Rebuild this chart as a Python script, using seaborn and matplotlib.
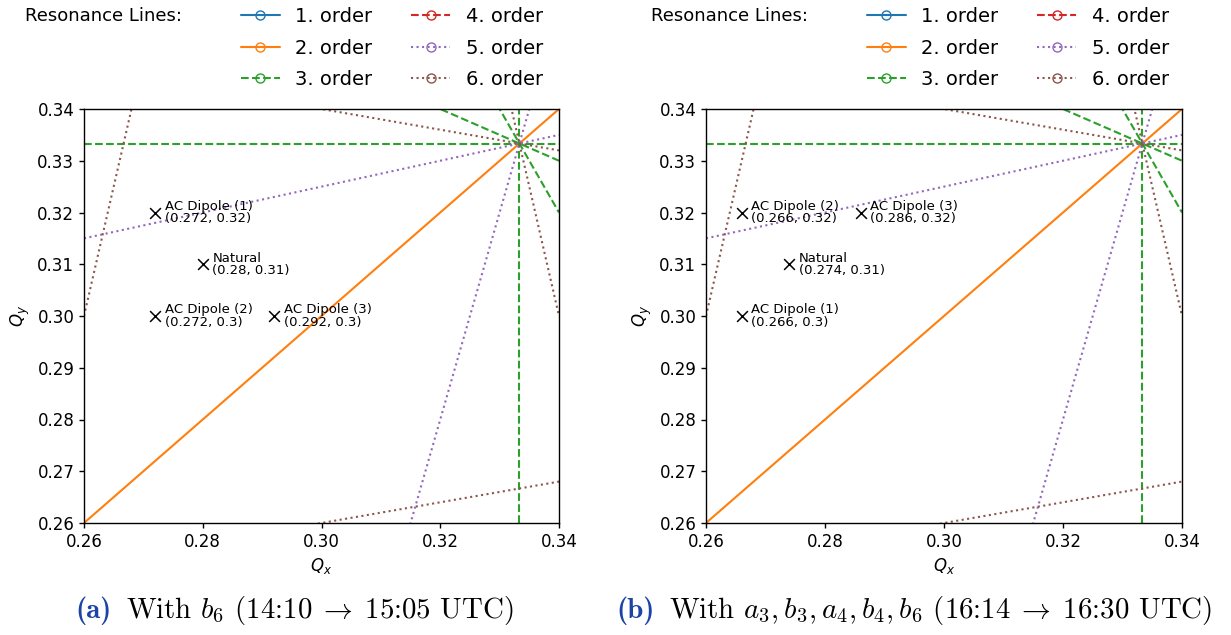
import numpy as np
import pandas as pd
import matplotlib
matplotlib.use("Agg")
import matplotlib.pyplot as plt
import seaborn as sns
from matplotlib.lines import Line2D

sns.set_theme(style="ticks")
plt.rcParams.update({
    "font.family": ["DejaVu Sans"],
    "axes.edgecolor": "black",
    "axes.labelcolor": "black",
    "text.color": "black",
    "xtick.color": "black",
    "ytick.color": "black",
    "axes.linewidth": 1.0,
    "xtick.major.size": 3.5,
    "ytick.major.size": 3.5,
    "xtick.major.width": 1.0,
    "ytick.major.width": 1.0,
    "xtick.labelsize": 12,
    "ytick.labelsize": 12,
    "axes.labelsize": 12,
    "axes.grid": False,
    "axes.unicode_minus": False,
})

# ---- resonance lines  m*Qx + n*Qy = p ----
res_order = [2, 3, 3, 3, 3, 5, 5, 6, 6, 6, 6]
res_m = [1, 3, 0, 1, 2, 4, 1, 5, 1, 5, 1]
res_n = [-1, 0, 3, 2, 1, -1, -4, 1, 5, -1, -5]
res_p = [0, 1, 1, 1, 1, 1, -1, 2, 2, 1, -1]

order_labels = ["1. order", "2. order", "3. order", "4. order", "5. order", "6. order"]
order_colors = ["#1f77b4", "#ff7f0e", "#2ca02c", "#d62728", "#9467bd", "#8c564b"]
order_styles = ["-", "-", "--", "--", ":", ":"]

# ---- working points ----
left_names = ["AC Dipole (1)", "Natural", "AC Dipole (2)", "AC Dipole (3)"]
left_qx = [0.272, 0.28, 0.272, 0.292]
left_qy = [0.32, 0.31, 0.3, 0.3]

right_names = ["AC Dipole (2)", "AC Dipole (3)", "Natural", "AC Dipole (1)"]
right_qx = [0.266, 0.286, 0.274, 0.266]
right_qy = [0.32, 0.32, 0.31, 0.3]

q_min, q_max = 0.26, 0.34
x_ticks = [0.26, 0.28, 0.30, 0.32, 0.34]
y_ticks = [0.26, 0.27, 0.28, 0.29, 0.30, 0.31, 0.32, 0.33, 0.34]

captions_label = ["(a)", "(b)"]
captions_text = [
    r"With $b_6$ (14:10$\;\rightarrow\;$15:05 UTC)",
    r"With $a_3, b_3, a_4, b_4, b_6$ (16:14$\;\rightarrow\;$16:30 UTC)",
]

W, H = 1231, 635
fig = plt.figure(figsize=(W / 100, H / 100), dpi=100)
ax_l = fig.add_axes([84 / W, 1 - 523 / H, 475 / W, 414 / H])
ax_r = fig.add_axes([706 / W, 1 - 523 / H, 476 / W, 414 / H])


def draw_panel(ax, names, qx, qy, x_off):
    for o, m, n, p in zip(res_order, res_m, res_n, res_p):
        if n == 0:
            xs = np.array([p / m, p / m])
            ys = np.array([q_min, q_max])
        else:
            xs = np.array([q_min, q_max])
            ys = (p - m * xs) / n
        sns.lineplot(x=xs, y=ys, ax=ax, color=order_colors[o - 1],
                     linestyle=order_styles[o - 1], linewidth=1.5,
                     sort=False, estimator=None)
    sns.scatterplot(x=qx, y=qy, ax=ax, marker="x", color="black", s=60,
                    linewidth=1.1, zorder=5)
    for nm, x, y in zip(names, qx, qy):
        ax.annotate(f"{nm}\n({x}, {y})", xy=(x, y), xytext=(7, 0),
                    textcoords="offset points", ha="left", va="center",
                    fontsize=9.5, linespacing=0.95)
    ax.set_xlim(q_min, q_max)
    ax.set_ylim(q_min, q_max)
    ax.set_xticks(x_ticks)
    ax.set_yticks(y_ticks)
    ax.set_xticklabels([f"{t:.2f}" for t in x_ticks])
    ax.set_yticklabels([f"{t:.2f}" for t in y_ticks])
    ax.set_xlabel(r"$Q_x$")
    ax.set_ylabel(r"$Q_y$")
    handles = [Line2D([0], [0], color=c, linestyle=ls, linewidth=1.5,
                      marker="o", markerfacecolor="none", markersize=6.5)
               for c, ls in zip(order_colors, order_styles)]
    ax.legend(handles, order_labels, ncol=2, loc="upper left",
              bbox_to_anchor=((241 + x_off) / W, 1 - 7 / H),
              bbox_transform=fig.transFigure, frameon=False, fontsize=14,
              borderaxespad=0, borderpad=0, labelspacing=0.65)
    fig.text((25 + x_off) / W, 1 - 16 / H, "Resonance Lines:", fontsize=13,
             ha="left", va="center")


draw_panel(ax_l, left_names, left_qx, left_qy, 0)
draw_panel(ax_r, right_names, right_qx, right_qy, 626)

for lab, txt, x0 in zip(captions_label, captions_text, [75, 616]):
    t1 = fig.text(x0 / W, 1 - 618 / H, lab, fontsize=20.8, family="cmb10",
                  color="#1c44a6", ha="left", va="baseline")
    t2 = fig.text(0, 0, txt, fontsize=20.8, family="cmr10", ha="left",
                  va="baseline", math_fontfamily="cm", transform=None)
    fig.canvas.draw()
    bb = t1.get_window_extent()
    t2.set_position((bb.x1 + 15, H * (1 - 618 / H)))

fig.savefig("out.png", dpi=100)
